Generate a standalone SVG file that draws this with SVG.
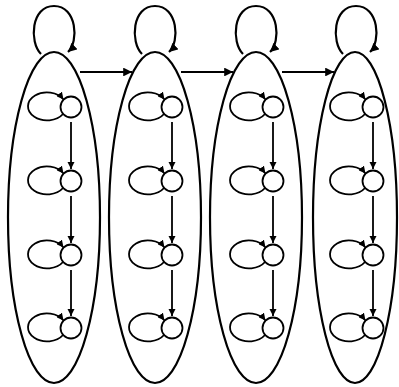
<svg xmlns="http://www.w3.org/2000/svg" width="399" height="387" viewBox="0 0 399 387">
<style>
.big{fill:none;stroke:#000;stroke-width:2.2}
.sm{fill:none;stroke:#000;stroke-width:1.8}
.e{fill:none;stroke:#000;stroke-width:1.8}
.eb{fill:none;stroke:#000;stroke-width:2.2}
</style>
<defs>
<marker id="ah" viewBox="0 0 10 10" refX="10" refY="5" markerWidth="4" markerHeight="4" orient="auto" markerUnits="strokeWidth">
<path d="M0,0 L10,5 L0,10 z" fill="#000"/>
</marker>
</defs>
<rect width="399" height="387" fill="#fff"/>
<g id="n1">
<ellipse class="big" cx="54" cy="217.5" rx="46" ry="165.5"/>
</g>
<g id="n2">
<ellipse class="big" cx="155" cy="217.5" rx="46" ry="165.5"/>
</g>
<g id="n3">
<ellipse class="big" cx="256" cy="217.5" rx="46" ry="165.5"/>
</g>
<g id="n4">
<ellipse class="big" cx="355" cy="217.5" rx="42" ry="165.5"/>
</g>
<g id="c1r1"><circle class="sm" cx="71" cy="107" r="10.5"/></g>
<g id="c1r2"><circle class="sm" cx="71" cy="181" r="10.5"/></g>
<g id="c1r3"><circle class="sm" cx="71" cy="255" r="10.5"/></g>
<g id="c1r4"><circle class="sm" cx="71" cy="328" r="10.5"/></g>
<g id="c2r1"><circle class="sm" cx="172" cy="107" r="10.5"/></g>
<g id="c2r2"><circle class="sm" cx="172" cy="181" r="10.5"/></g>
<g id="c2r3"><circle class="sm" cx="172" cy="255" r="10.5"/></g>
<g id="c2r4"><circle class="sm" cx="172" cy="328" r="10.5"/></g>
<g id="c3r1"><circle class="sm" cx="273" cy="107" r="10.5"/></g>
<g id="c3r2"><circle class="sm" cx="273" cy="181" r="10.5"/></g>
<g id="c3r3"><circle class="sm" cx="273" cy="255" r="10.5"/></g>
<g id="c3r4"><circle class="sm" cx="273" cy="328" r="10.5"/></g>
<g id="c4r1"><circle class="sm" cx="373" cy="107" r="10.5"/></g>
<g id="c4r2"><circle class="sm" cx="373" cy="181" r="10.5"/></g>
<g id="c4r3"><circle class="sm" cx="373" cy="255" r="10.5"/></g>
<g id="c4r4"><circle class="sm" cx="373" cy="328" r="10.5"/></g>
<g id="connectors">
<path class="eb" marker-end="url(#ah)" d="M41,54 C29,42 31,6 54,6 C77,6 79,42 68,52"/>
<path class="eb" marker-end="url(#ah)" d="M142,54 C130,42 132,6 155,6 C178,6 180,42 169,52"/>
<path class="eb" marker-end="url(#ah)" d="M243,54 C231,42 233,6 256,6 C279,6 281,42 270,52"/>
<path class="eb" marker-end="url(#ah)" d="M343,54 C331,42 333,6 356,6 C379,6 381,42 370,52"/>
<path class="eb" marker-end="url(#ah)" d="M80,72 L132,72"/>
<path class="eb" marker-end="url(#ah)" d="M181,72 L233,72"/>
<path class="eb" marker-end="url(#ah)" d="M282,72 L334,72"/>
<path class="e" marker-end="url(#ah)" d="M63,114 A19,14 0 1 1 63.5,99.5"/>
<path class="e" marker-end="url(#ah)" d="M63,188 A19,14 0 1 1 63.5,173.5"/>
<path class="e" marker-end="url(#ah)" d="M63,262 A19,14 0 1 1 63.5,247.5"/>
<path class="e" marker-end="url(#ah)" d="M63,335 A19,14 0 1 1 63.5,320.5"/>
<path class="e" marker-end="url(#ah)" d="M164,114 A19,14 0 1 1 164.5,99.5"/>
<path class="e" marker-end="url(#ah)" d="M164,188 A19,14 0 1 1 164.5,173.5"/>
<path class="e" marker-end="url(#ah)" d="M164,262 A19,14 0 1 1 164.5,247.5"/>
<path class="e" marker-end="url(#ah)" d="M164,335 A19,14 0 1 1 164.5,320.5"/>
<path class="e" marker-end="url(#ah)" d="M265,114 A19,14 0 1 1 265.5,99.5"/>
<path class="e" marker-end="url(#ah)" d="M265,188 A19,14 0 1 1 265.5,173.5"/>
<path class="e" marker-end="url(#ah)" d="M265,262 A19,14 0 1 1 265.5,247.5"/>
<path class="e" marker-end="url(#ah)" d="M265,335 A19,14 0 1 1 265.5,320.5"/>
<path class="e" marker-end="url(#ah)" d="M365,114 A19,14 0 1 1 365.5,99.5"/>
<path class="e" marker-end="url(#ah)" d="M365,188 A19,14 0 1 1 365.5,173.5"/>
<path class="e" marker-end="url(#ah)" d="M365,262 A19,14 0 1 1 365.5,247.5"/>
<path class="e" marker-end="url(#ah)" d="M365,335 A19,14 0 1 1 365.5,320.5"/>
<path class="e" marker-end="url(#ah)" d="M71,122 L71,169"/>
<path class="e" marker-end="url(#ah)" d="M71,196 L71,243"/>
<path class="e" marker-end="url(#ah)" d="M71,270 L71,316"/>
<path class="e" marker-end="url(#ah)" d="M172,122 L172,169"/>
<path class="e" marker-end="url(#ah)" d="M172,196 L172,243"/>
<path class="e" marker-end="url(#ah)" d="M172,270 L172,316"/>
<path class="e" marker-end="url(#ah)" d="M273,122 L273,169"/>
<path class="e" marker-end="url(#ah)" d="M273,196 L273,243"/>
<path class="e" marker-end="url(#ah)" d="M273,270 L273,316"/>
<path class="e" marker-end="url(#ah)" d="M373,122 L373,169"/>
<path class="e" marker-end="url(#ah)" d="M373,196 L373,243"/>
<path class="e" marker-end="url(#ah)" d="M373,270 L373,316"/>
</g>
</svg>
